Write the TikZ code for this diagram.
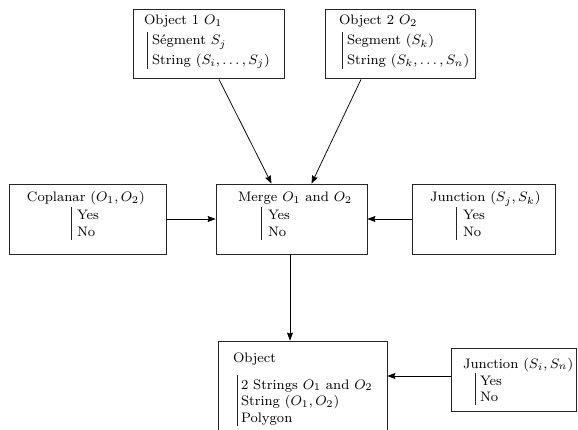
\documentclass[tikz,border=0pt]{standalone}
\usepackage{graphicx}
\usetikzlibrary{arrows.meta,calc}
\newcommand{\dtext}[1]{\scalebox{1.72}{\fontsize{8}{9.6}\selectfont #1}}
\tikzset{
  box/.style={draw=black!85, line width=0.75pt, rectangle, inner sep=0pt},
  lbl/.style={anchor=base west, inner sep=0pt, outer sep=0pt},
  bar/.style={draw=black!85, line width=0.9pt},
  arr/.style={draw=black, line width=0.75pt, -{Stealth[length=8pt,width=6pt,inset=1pt]}}
}
\begin{document}
\begin{tikzpicture}[x=1pt,y=-1pt]
\useasboundingbox (0,0) rectangle (578,430);
\clip (0,0) rectangle (578,430);
% boxes
\node[box, minimum width=151pt, minimum height=69pt] (o1) at (208.5,43.5) {};
\node[box, minimum width=150pt, minimum height=69pt] (o2) at (400,43.5) {};
\node[box, minimum width=157pt, minimum height=70pt] (cop) at (87.5,219) {};
\node[box, minimum width=151pt, minimum height=70pt] (merge) at (291.5,219) {};
\node[box, minimum width=143pt, minimum height=70pt] (junc1) at (483.5,219) {};
\node[box, minimum width=169pt, minimum height=109pt] (obj) at (302.5,395.5) {};
\node[box, minimum width=125pt, minimum height=63pt] (junc2) at (513.5,379.5) {};
% Object 1
\node[lbl] (o1t) at (144,25) {\dtext{Object 1 $O_1$}};
\coordinate (o1bt) at (147,32); \coordinate (o1bb) at (147,69);
\draw[bar] (o1bt) -- (o1bb);
\node[lbl] (o1a) at (152,45) {\dtext{Ségment $S_j$}};
\node[lbl] (o1b) at (152,64.5) {\dtext{String $(S_i,\ldots,S_j)$}};
% Object 2
\node[lbl] (o2t) at (339,25) {\dtext{Object 2 $O_2$}};
\coordinate (o2bt) at (342,32); \coordinate (o2bb) at (342,69);
\draw[bar] (o2bt) -- (o2bb);
\node[lbl] (o2a) at (347,45) {\dtext{Segment $(S_k)$}};
\node[lbl] (o2b) at (347,64.5) {\dtext{String $(S_k,\ldots,S_n)$}};
% Coplanar
\node[lbl] (copt) at (27,202) {\dtext{Coplanar $(O_1,O_2)$}};
\coordinate (copbt) at (71,207); \coordinate (copbb) at (71,240);
\draw[bar] (copbt) -- (copbb);
\node[lbl] (copy) at (77,219.5) {\dtext{Yes}};
\node[lbl] (copn) at (77,236.5) {\dtext{No}};
% Merge
\node[lbl] (mt) at (238,202) {\dtext{Merge $O_1$ and $O_2$}};
\coordinate (mbt) at (261,207); \coordinate (mbb) at (261,240);
\draw[bar] (mbt) -- (mbb);
\node[lbl] (my) at (268,219.5) {\dtext{Yes}};
\node[lbl] (mn) at (268,236.5) {\dtext{No}};
% Junction 1
\node[lbl] (j1t) at (430,202) {\dtext{Junction $(S_j,S_k)$}};
\coordinate (j1bt) at (456,207); \coordinate (j1bb) at (456,240);
\draw[bar] (j1bt) -- (j1bb);
\node[lbl] (j1y) at (463,219.5) {\dtext{Yes}};
\node[lbl] (j1n) at (463,236.5) {\dtext{No}};
% Object
\node[lbl] (objt) at (233,362) {\dtext{Object}};
\coordinate (objbt) at (237,375); \coordinate (objbb) at (237,426);
\draw[bar] (objbt) -- (objbb);
\node[lbl] (obja) at (241,389) {\dtext{2 Strings $O_1$ and $O_2$}};
\node[lbl] (objb) at (241,405.5) {\dtext{String $(O_1,O_2)$}};
\node[lbl] (objc) at (241,422) {\dtext{Polygon}};
% Junction 2
\node[lbl] (j2t) at (463,368) {\dtext{Junction $(S_i,S_n)$}};
\coordinate (j2bt) at (475,373); \coordinate (j2bb) at (475,405);
\draw[bar] (j2bt) -- (j2bb);
\node[lbl] (j2y) at (480,385) {\dtext{Yes}};
\node[lbl] (j2n) at (480,401.5) {\dtext{No}};
% connectors
\coordinate (a1s) at ($(o1.south)+(10.5,1)$);
\coordinate (a1e) at ($(merge.north)+(-20,0)$);
\coordinate (a2s) at ($(o2.south)+(-39,1)$);
\coordinate (a2e) at ($(merge.north)+(20,0)$);
\coordinate (a5s) at ($(merge.south)+(-1.5,0)$);
\coordinate (a5e) at (a5s |- obj.north);
\coordinate (a6s) at ($(junc2.west)+(0,-3.5)$);
\coordinate (a6e) at (a6s -| obj.east);
\draw[arr] (a1s) -- (a1e);
\draw[arr] (a2s) -- (a2e);
\draw[arr] (cop.east) -- (merge.west);
\draw[arr] (junc1.west) -- (merge.east);
\draw[arr] (a5s) -- (a5e);
\draw[arr] (a6s) -- (a6e);
\end{tikzpicture}
\end{document}
